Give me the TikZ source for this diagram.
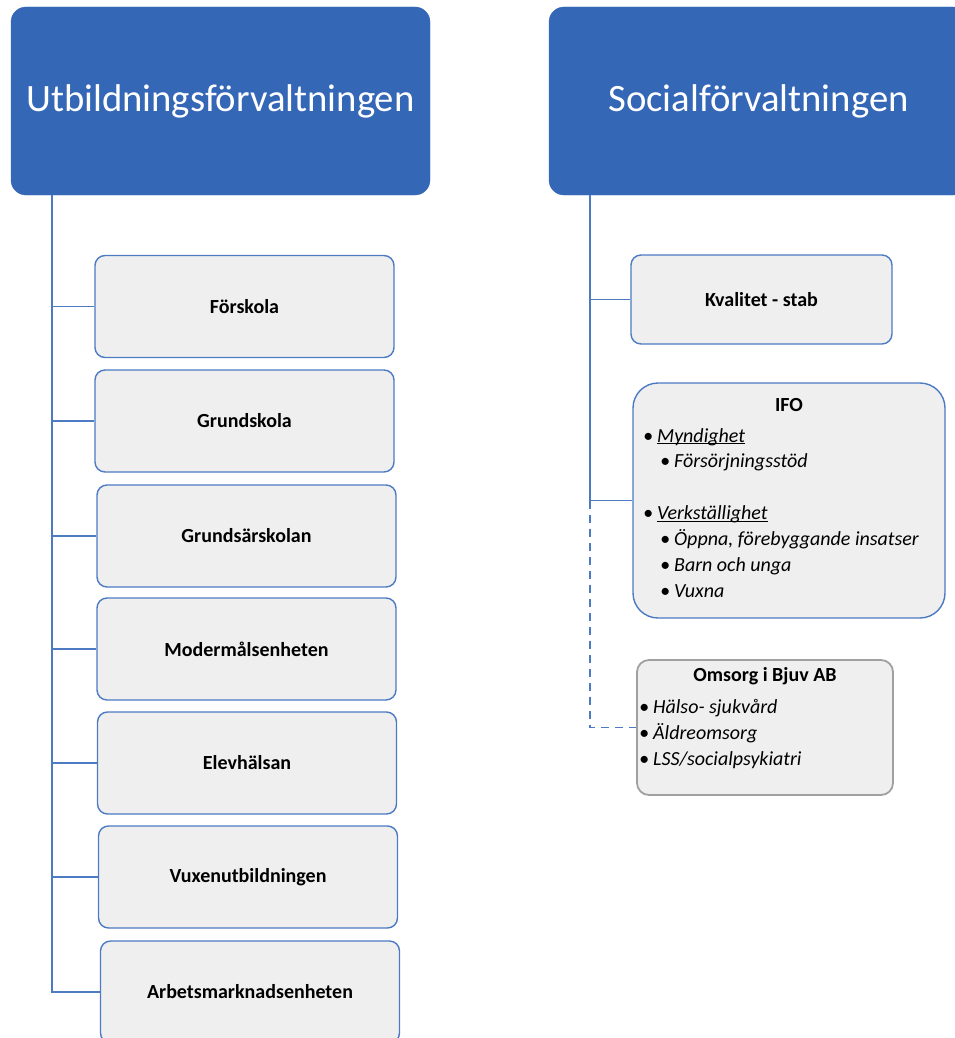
\documentclass[tikz,border=0pt]{standalone}
\usepackage{fontspec}
\setmainfont{Carlito}
\usetikzlibrary{calc}

\definecolor{headblue}{HTML}{3567B7}
\definecolor{lineblue}{HTML}{4C7BC3}
\definecolor{boxgray}{HTML}{EFEFEF}
\definecolor{edgegray}{HTML}{A0A0A0}

\newcommand{\uword}[1]{\setbox0\hbox{#1}\rlap{\rule[-2pt]{\wd0}{1pt}}\box0}

\begin{document}
\begin{tikzpicture}[x = 1pt, y = -1pt,
		head/.style = {rectangle, rounded corners = 15pt, fill = headblue, draw = headblue,
			text = white, minimum width = 419pt, minimum height = 188pt,
			font = \fontsize{38.7}{42}\selectfont},
		unit/.style = {rectangle, rounded corners = 10pt, fill = boxgray, draw = lineblue,
			line width = 1.4pt, minimum width = 299pt, minimum height = 102pt,
			font = \fontsize{20}{24}\selectfont\bfseries},
		list/.style = {anchor = north west, align = left, inner sep = 0pt,
			font = \fontsize{20}{25.9}\selectfont\itshape},
		conn/.style = {draw = lineblue, line width = 1.7pt}]

			\useasboundingbox (0,0) rectangle (955,1038);

			\begin{scope}
				\node [head] (uf) at (220.5,101) {Utbildningsförvaltningen};
				\node [head] (sf) at (758.5,101) {Socialförvaltningen};
				\coordinate (ut) at ($(uf.south west)+(41,0)$);
				\coordinate (st) at ($(sf.south west)+(41,0)$);
			\end{scope}

			\begin{scope}
				\foreach \nm/\xx/\yy/\txt in {fsk/244.5/306.5/Förskola, gsk/244.5/421/Grundskola,
						gsr/246.5/536/Grundsärskolan, mod/246.5/649/Modermålsenheten,
						elv/247/763/Elevhälsan, vux/248/877/Vuxenutbildningen,
						arb/250/992/Arbetsmarknadsenheten}
					\node [unit] (\nm) at (\xx,\yy) {\txt};
				\foreach \nm in {fsk, gsk, gsr, mod, elv, vux, arb}
					\draw [conn] (ut) |- (\nm.west);
			\end{scope}

			\begin{scope}
				\node [unit, minimum width = 261pt, minimum height = 89pt] (kval) at (761.5,299.5) {Kvalitet - stab};

				\node [unit, rounded corners = 25pt, minimum width = 312pt, minimum height = 235pt] (ifo) at (789,500.5) {};
				\node [font = \fontsize{20}{24}\selectfont\bfseries] (ifohead) at (789,405) {IFO};
				\node [list] (ifolist) at (643,428) {%
					\textbullet\hspace{4pt}\uword{Myndighet}\\
					\hspace{17pt}\textbullet\hspace{4pt}Försörjningsstöd\\[25.9pt]
					\textbullet\hspace{4pt}\uword{Verkställighet}\\
					\hspace{17pt}\textbullet\hspace{4pt}Öppna, förebyggande insatser\\
					\hspace{17pt}\textbullet\hspace{4pt}Barn och unga\\
					\hspace{17pt}\textbullet\hspace{4pt}Vuxna};

				\node [unit, draw = edgegray, line width = 1.8pt, rounded corners = 12pt, minimum width = 256pt, minimum height = 135pt] (oms) at (765,727.5) {};
				\node [font = \fontsize{20}{24}\selectfont\bfseries] (omshead) at (765,676) {Omsorg i Bjuv AB};
				\node [list] (omslist) at (639,699) {%
					\textbullet\hspace{4pt}Hälso- sjukvård\\
					\textbullet\hspace{4pt}Äldreomsorg\\
					\textbullet\hspace{4pt}LSS/socialpsykiatri};
			\end{scope}

			\begin{scope}
				\draw [conn] (st) |- (kval.west);
				\draw [conn] (st) |- (ifo.west);
				\draw [conn, dash pattern = on 8pt off 6pt] (ifo.west -| st) |- (oms.west);
			\end{scope}
		\end{tikzpicture}
\end{document}
